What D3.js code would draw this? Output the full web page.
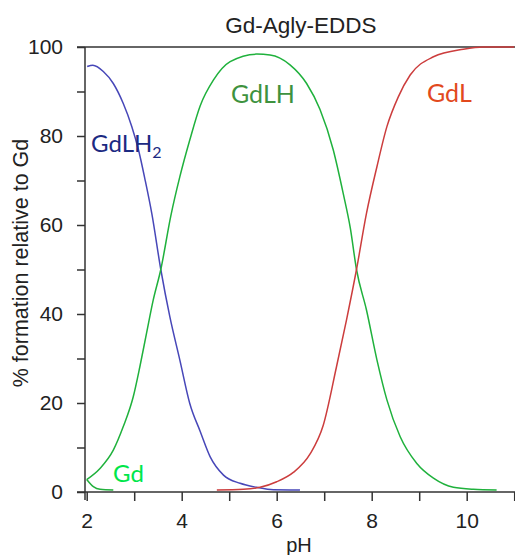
<!DOCTYPE html>
<html>
<head>
<meta charset="utf-8">
<script src="https://cdn.jsdelivr.net/npm/d3@7/dist/d3.min.js"></script>
<style>
  html, body { margin: 0; padding: 0; background: #fff; }
  svg { display: block; }
</style>
</head>
<body>
<svg id="chart" width="515" height="555"></svg>
<script>
// ---- data ----
const title = "Gd-Agly-EDDS";
const xLabel = "pH";
const yLabel = "% formation relative to Gd";
const xMajorTicks = [2, 4, 6, 8, 10];
const xMinorTicks = [3, 5, 7, 9, 11];
const yMajorTicks = [0, 20, 40, 60, 80, 100];
const yMinorTicks = [10, 30, 50, 70, 90];

const pHGdLH2 = [2.01, 2.13, 2.35, 2.56, 2.77, 2.95, 3.09, 3.23, 3.37, 3.56, 3.75, 3.96, 4.17, 4.39, 4.60, 4.88, 5.23, 5.58, 5.93, 6.49];
const GdLH2   = [95.6, 95.9, 94.5, 91.8, 87.3, 82.1, 76.9, 70.1, 62.6, 50.0, 39.4, 29.7, 19.9, 13.6, 7.9, 3.8, 1.95, 1.05, 0.5, 0.45];

const pHGdLH = [2.0, 2.28, 2.56, 2.77, 2.98, 3.12, 3.26, 3.40, 3.56, 3.77, 3.96, 4.17, 4.39, 4.67, 5.02, 5.58, 5.86, 6.28, 6.63, 6.91, 7.19, 7.40, 7.55, 7.68, 7.89, 8.11, 8.32, 8.60, 8.95, 9.30, 9.72, 10.14, 10.63];
const GdLH   = [2.8, 5.3, 9.4, 14.7, 21.4, 28.2, 35.7, 43.1, 50.0, 62.0, 70.8, 79.1, 86.8, 92.6, 96.7, 98.4, 98.2, 96.0, 91.8, 86.0, 76.9, 67.1, 59.3, 50.0, 40.9, 29.7, 20.7, 12.4, 6.4, 3.1, 1.05, 0.6, 0.45];

const pHGdL = [4.74, 5.30, 5.65, 6.00, 6.35, 6.70, 6.98, 7.26, 7.47, 7.68, 7.89, 8.11, 8.32, 8.56, 8.81, 9.30, 9.93, 10.35, 11.0];
const GdL   = [0.45, 0.6, 1.05, 2.3, 4.4, 8.5, 15.0, 28.2, 38.7, 50.0, 62.6, 73.1, 82.1, 88.8, 93.7, 97.8, 99.5, 100, 100];

const pHGd = [2.0, 2.14, 2.28, 2.56];
const Gd   = [2.8, 1.2, 0.6, 0.45];

const series = [
  { name: "GdLH2", ph: pHGdLH2, v: GdLH2, color: "#4747b8" },
  { name: "GdLH",  ph: pHGdLH,  v: GdLH,  color: "#1fb13c" },
  { name: "GdL",   ph: pHGdL,   v: GdL,   color: "#cc3d3d" },
  { name: "Gd",    ph: pHGd,    v: Gd,    color: "#22b03c" }
];

// ---- layout ----
const svg = d3.select("#chart");
const x = d3.scaleLinear().domain([2, 11]).range([86.7, 514.2]);
const y = d3.scaleLinear().domain([0, 100]).range([492, 47]);
const axisColor = "#333";
const xLeft = 85, xRight = 515;

// frame lines
svg.append("line").attr("x1", 77).attr("x2", xRight).attr("y1", y(100)).attr("y2", y(100))
  .attr("stroke", axisColor).attr("stroke-width", 1.5);
svg.append("line").attr("x1", 77).attr("x2", xRight).attr("y1", y(0)).attr("y2", y(0))
  .attr("stroke", axisColor).attr("stroke-width", 1.5);
svg.append("line").attr("x1", xLeft).attr("x2", xLeft).attr("y1", y(100)).attr("y2", y(0) + 8)
  .attr("stroke", axisColor).attr("stroke-width", 1.5);

// y axis
const yAxis = d3.axisLeft(y).tickValues(yMajorTicks).tickSize(8).tickPadding(14);
const gy = svg.append("g").attr("transform", `translate(${xLeft},0)`).call(yAxis);
gy.select(".domain").remove();
gy.selectAll(".tick line").attr("stroke", axisColor).attr("stroke-width", 1.5);
gy.selectAll(".tick text").attr("font-family", "Liberation Sans, Arial, sans-serif")
  .attr("font-size", 21).attr("fill", "#222");
const gyMinor = svg.append("g").attr("transform", `translate(${xLeft},0)`)
  .call(d3.axisLeft(y).tickValues(yMinorTicks).tickSize(8).tickFormat(""));
gyMinor.select(".domain").remove();
gyMinor.selectAll(".tick line").attr("stroke", axisColor).attr("stroke-width", 1.5);

// x axis
const xAxis = d3.axisBottom(x).tickValues(xMajorTicks).tickSize(9).tickPadding(12);
const gx = svg.append("g").attr("transform", `translate(0,${y(0)})`).call(xAxis);
gx.select(".domain").remove();
gx.selectAll(".tick line").attr("stroke", axisColor).attr("stroke-width", 1.5);
gx.selectAll(".tick text").attr("font-family", "Liberation Sans, Arial, sans-serif")
  .attr("font-size", 21).attr("fill", "#222");
const gxMinor = svg.append("g").attr("transform", `translate(0,${y(0)})`)
  .call(d3.axisBottom(x).tickValues(xMinorTicks).tickSize(9).tickFormat(""));
gxMinor.select(".domain").remove();
gxMinor.selectAll(".tick line").attr("stroke", axisColor).attr("stroke-width", 1.5);

// curves
const line = d3.line().x(d => x(d[0])).y(d => y(d[1])).curve(d3.curveMonotoneX);
series.forEach(s => {
  const pts = s.ph.map((p, i) => [p, s.v[i]]);
  svg.append("path").attr("d", line(pts)).attr("fill", "none")
    .attr("stroke", s.color).attr("stroke-width", 1.5);
});

// title & axis labels
svg.append("text").attr("x", 301).attr("y", 33).attr("text-anchor", "middle")
  .attr("font-family", "Liberation Sans, Arial, sans-serif").attr("font-size", 22.5)
  .attr("fill", "#222").text(title);
svg.append("text").attr("x", 299).attr("y", 552).attr("text-anchor", "middle")
  .attr("font-family", "Liberation Sans, Arial, sans-serif").attr("font-size", 20)
  .attr("fill", "#222").text(xLabel);
svg.append("text").attr("transform", "translate(28,263) rotate(-90)").attr("text-anchor", "middle")
  .attr("font-family", "Liberation Sans, Arial, sans-serif").attr("font-size", 21.5)
  .attr("fill", "#222").text(yLabel);

// curve labels
const lblFont = "Lato, 'Open Sans', sans-serif";
const t1 = svg.append("text").attr("x", 91).attr("y", 152).attr("font-family", lblFont)
  .attr("font-size", 24).attr("fill", "#1c2a82");
t1.append("tspan").text("GdLH");
t1.append("tspan").attr("font-size", 16).attr("dy", 6).text("2");
svg.append("text").attr("x", 231).attr("y", 103).attr("font-family", lblFont)
  .attr("font-size", 25).attr("fill", "#3e923e").text("GdLH");
svg.append("text").attr("x", 427).attr("y", 102).attr("font-family", lblFont)
  .attr("font-size", 25).attr("fill", "#e2491d").text("GdL");
svg.append("text").attr("x", 113).attr("y", 482).attr("font-family", lblFont)
  .attr("font-size", 24).attr("fill", "#00e64a").text("Gd");
</script>
</body>
</html>
